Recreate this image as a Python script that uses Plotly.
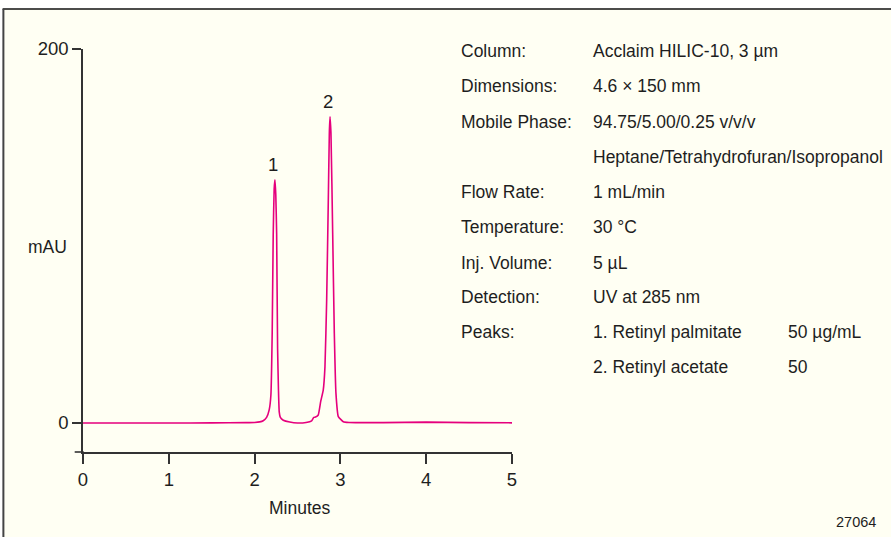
import plotly.graph_objects as go

# ---- data ----
time_min = [0.0, 0.5, 1.0, 1.5, 1.9, 2.0, 2.06, 2.10, 2.14, 2.17, 2.19, 2.205, 2.217,
            2.228, 2.237, 2.247, 2.257, 2.268, 2.278, 2.287, 2.30, 2.334, 2.41, 2.5,
            2.6, 2.665, 2.69, 2.71, 2.742, 2.77, 2.80, 2.82, 2.84, 2.859, 2.871, 2.879,
            2.89, 2.91, 2.929, 2.948, 2.976, 3.034, 3.1, 3.5, 4.0, 4.5, 5.0]
absorbance = [0.0, 0.0, 0.0, 0.1, 0.2, 0.3, 0.6, 1.2, 3, 7, 15, 48, 101,
              125, 130, 122, 101, 40, 18, 6, 3, 1.5, 0.5, 0.0,
              0.3, 1.2, 3, 3.2, 4.3, 11.4, 17.6, 30, 65.8, 119, 155, 163.8,
              155, 101.6, 48, 16, 3.4, 0.7, 0.3, 0.2, 0.5, 0.2, 0.1]

peak_labels = ["1", "2"]
peak_times = [2.237, 2.879]
peak_heights = [130, 163.8]

x_ticks = [0, 1, 2, 3, 4, 5]
y_ticks = [0, 200]

info_labels = ["Column:", "Dimensions:", "Mobile Phase:", "", "Flow Rate:", "Temperature:",
               "Inj. Volume:", "Detection:", "Peaks:", ""]
info_values = ["Acclaim HILIC-10, 3 µm", "4.6 × 150 mm", "94.75/5.00/0.25 v/v/v",
               "Heptane/Tetrahydrofuran/Isopropanol", "1 mL/min", "30 °C", "5 µL",
               "UV at 285 nm", "1. Retinyl palmitate", "2. Retinyl acetate"]
info_conc = ["", "", "", "", "", "", "", "", "50 µg/mL", "50"]

# ---- layout geometry (pixels) ----
W, H = 891, 537
L, R, T, B = 83.3, 379.3, 49, 85
PW, PH = W - L - R, H - T - B
FONT = "Liberation Sans, Arial, sans-serif"
FS = 17.5
TXT = "#1e1e1e"
AX = "#333333"
BG = "#FFFFF3"


def px(x):
    return (x - L) / PW


def py(y):
    return 1 - (y - T) / PH


fig = go.Figure()
fig.add_trace(go.Scatter(x=time_min, y=absorbance, mode="lines",
                         line=dict(color="#E5007D", width=1.6, shape="spline", smoothing=0.4),
                         hoverinfo="skip", showlegend=False))

annotations = []
for lab, t, h in zip(peak_labels, peak_times, peak_heights):
    annotations.append(dict(x=t, y=h, xref="x", yref="y", text=lab, showarrow=False,
                            xanchor="center", yanchor="bottom", yshift=3, xshift=-2,
                            font=dict(family=FONT, size=FS + 1, color=TXT)))

row_y = [51, 86, 122, 157, 192, 227, 263, 297, 332, 367]
for yy, a, b, c in zip(row_y, info_labels, info_values, info_conc):
    for xx, s in ((459, a), (591, b), (785, c)):
        if s:
            annotations.append(dict(x=px(xx), y=py(yy), xref="paper", yref="paper", text=s,
                                    showarrow=False, xanchor="left", yanchor="middle",
                                    font=dict(family=FONT, size=FS, color=TXT)))

for s, xx, yy, fs in (("mAU", 48, 247, FS), ("Minutes", 300, 508, FS), ("27064", 855, 522, 14.5)):
    annotations.append(dict(x=px(xx), y=py(yy), xref="paper", yref="paper", text=s,
                            showarrow=False, xanchor="center", yanchor="middle",
                            font=dict(family=FONT, size=fs, color=TXT)))

shapes = [
    dict(type="rect", xref="paper", yref="paper", x0=px(4), x1=px(W + 5), y0=py(9), y1=py(H + 5),
         fillcolor=BG, line=dict(width=0), layer="below"),
    dict(type="line", xref="paper", yref="paper", x0=px(3), x1=px(W + 5), y0=py(9), y1=py(9),
         line=dict(color="#111111", width=1.5)),
    dict(type="line", xref="paper", yref="paper", x0=px(3.8), x1=px(3.8), y0=py(9), y1=py(H + 5),
         line=dict(color="#444444", width=2)),
    dict(type="line", xref="paper", yref="paper", x0=px(75), x1=px(84), y0=0, y1=0,
         line=dict(color=AX, width=1.6)),
]

fig.update_layout(
    width=W, height=H,
    margin=dict(l=L, r=R, t=T, b=B),
    paper_bgcolor="white", plot_bgcolor="rgba(0,0,0,0)",
    font=dict(family=FONT, size=FS, color=TXT),
    xaxis=dict(range=[0, 5], tickvals=x_ticks, ticks="outside", ticklen=10, tickwidth=1.6,
               tickcolor=AX, showline=True, linecolor=AX, linewidth=1.6, showgrid=False,
               zeroline=False, tickfont=dict(family=FONT, size=FS + 1, color=TXT)),
    yaxis=dict(range=[-15.5, 200], tickvals=y_ticks, ticks="outside", ticklen=9, tickwidth=1.6,
               tickcolor=AX, showline=True, linecolor=AX, linewidth=1.6, showgrid=False,
               zeroline=False, tickfont=dict(family=FONT, size=FS + 1, color=TXT)),
    annotations=annotations, shapes=shapes,
)

fig.write_html("out.html", config={"displayModeBar": False},
               post_script="document.body.style.margin='0';document.body.style.overflow='hidden';")
